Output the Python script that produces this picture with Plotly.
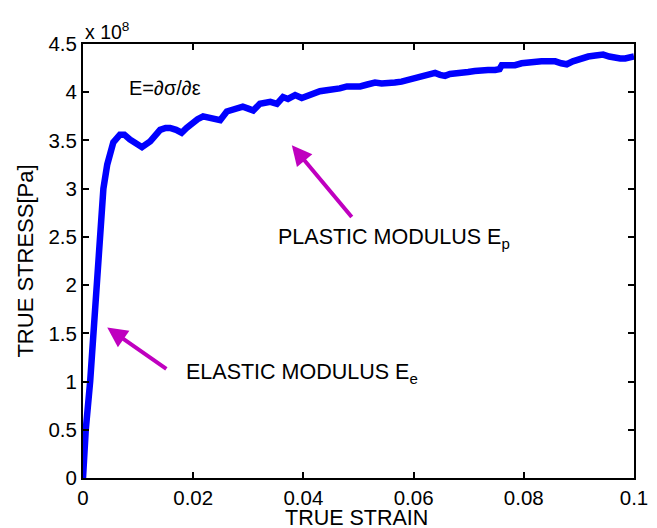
import plotly.graph_objects as go

# True stress (x 1e8 Pa) versus true strain
strain = [0.0, 0.0005, 0.0013, 0.0019, 0.0023, 0.0029, 0.0037, 0.0044, 0.0055, 0.0067,
          0.0075, 0.0085, 0.0096, 0.0107, 0.0122, 0.0131, 0.0140, 0.0150, 0.0158, 0.0169,
          0.0179, 0.0188, 0.0197, 0.0208, 0.0218, 0.0228, 0.0236, 0.0249, 0.0261, 0.0270,
          0.0279, 0.0290, 0.0300, 0.0309, 0.0321, 0.0330, 0.0340, 0.0352, 0.0363, 0.0372,
          0.0385, 0.0397, 0.0412, 0.0421, 0.0430, 0.0442, 0.0454, 0.0466, 0.0479, 0.0491,
          0.0503, 0.0516, 0.0530, 0.0542, 0.0554, 0.0566, 0.0578, 0.0590, 0.0603, 0.0612,
          0.0621, 0.0630, 0.0639, 0.0648, 0.0657, 0.0666, 0.0675, 0.0687, 0.0699, 0.0711,
          0.0723, 0.0735, 0.0748, 0.0756, 0.0760, 0.0772, 0.0784, 0.0796, 0.0808, 0.0820,
          0.0832, 0.0845, 0.0857, 0.0868, 0.0878, 0.0889, 0.0899, 0.0908, 0.0917, 0.0930,
          0.0944, 0.0955, 0.0966, 0.0975, 0.0984, 0.0991, 0.0998, 0.1000]
stress = [0.00, 0.50, 1.00, 1.50, 2.00, 2.50, 3.00, 3.25, 3.48, 3.56,
          3.56, 3.51, 3.47, 3.43, 3.49, 3.55, 3.61, 3.63, 3.63, 3.61,
          3.58, 3.63, 3.68, 3.72, 3.75, 3.74, 3.73, 3.71, 3.80, 3.82,
          3.835, 3.85, 3.83, 3.81, 3.88, 3.89, 3.90, 3.88, 3.95, 3.93,
          3.97, 3.94, 3.98, 4.00, 4.01, 4.02, 4.025, 4.04, 4.06, 4.06,
          4.06, 4.08, 4.10, 4.09, 4.09, 4.10, 4.11, 4.13, 4.15, 4.16,
          4.18, 4.19, 4.20, 4.18, 4.17, 4.19, 4.20, 4.20, 4.21, 4.22,
          4.23, 4.23, 4.23, 4.24, 4.28, 4.28, 4.28, 4.30, 4.31, 4.31,
          4.32, 4.32, 4.32, 4.30, 4.29, 4.32, 4.34, 4.36, 4.37, 4.38,
          4.39, 4.37, 4.35, 4.35, 4.35, 4.36, 4.37, 4.37]

x_ticks = [0, 0.02, 0.04, 0.06, 0.08, 0.1]
x_tick_labels = ["0", "0.02", "0.04", "0.06", "0.08", "0.1"]
y_ticks = [0, 0.5, 1, 1.5, 2, 2.5, 3, 3.5, 4, 4.5]
y_tick_labels = ["0", "0.5", "1", "1.5", "2", "2.5", "3", "3.5", "4", "4.5"]

# Arrow heads and tails (strain, stress)
elastic_head = (0.0044, 1.56)
elastic_tail = (0.0154, 1.12)
plastic_head = (0.0379, 3.45)
plastic_tail = (0.0490, 2.69)

FONT = "Liberation Sans, Arial, Helvetica, sans-serif"
ARROW = "#BF00BF"

fig = go.Figure()
fig.add_trace(go.Scatter(x=strain, y=stress, mode="lines",
                         line=dict(color="#0000FF", width=6.5),
                         showlegend=False))

axis_common = dict(showline=True, linecolor="black", linewidth=2, mirror="ticks",
                   ticks="inside", ticklen=6, tickwidth=1.5, tickcolor="black",
                   showgrid=False, zeroline=False,
                   tickfont=dict(family=FONT, size=20.5, color="black"))

fig.update_xaxes(range=[0, 0.1], tickvals=x_ticks, ticktext=x_tick_labels,
                 **axis_common)
fig.update_yaxes(range=[0, 4.5], tickvals=y_ticks, ticktext=y_tick_labels,
                 title=dict(text="TRUE STRESS[Pa]", font=dict(family=FONT, size=22, color="black"),
                            standoff=9),
                 **axis_common)

annotations = [
    # x-axis label sits low, just under the tick labels
    dict(xref="paper", yref="paper", x=0.4955, y=0, xanchor="center", yanchor="top",
         text="TRUE STRAIN", showarrow=False, yshift=-26,
         font=dict(family=FONT, size=21.5, color="black")),
    dict(xref="paper", yref="paper", x=0, y=1, xanchor="left", yanchor="bottom",
         text="x 10<sup>8</sup>", showarrow=False, yshift=-1,
         font=dict(family=FONT, size=19.5, color="black")),
    dict(x=0.008, y=4.045, xanchor="left", yanchor="middle",
         text="E=\u2202\u03c3/\u2202\u03b5", showarrow=False,
         font=dict(family=FONT, size=20, color="black")),
    dict(x=0.0350, y=2.48, xanchor="left", yanchor="middle",
         text="PLASTIC MODULUS E<sub>p</sub>", showarrow=False,
         font=dict(family=FONT, size=21.5, color="black")),
    dict(x=0.0183, y=1.08, xanchor="left", yanchor="middle",
         text="ELASTIC MODULUS E<sub>e</sub>", showarrow=False,
         font=dict(family=FONT, size=21.5, color="black")),
]
for head, tail in [(elastic_head, elastic_tail), (plastic_head, plastic_tail)]:
    annotations.append(dict(x=head[0], y=head[1], ax=tail[0], ay=tail[1],
                            xref="x", yref="y", axref="x", ayref="y",
                            text="", showarrow=True, arrowhead=2, arrowsize=1,
                            arrowwidth=4, arrowcolor=ARROW))

fig.update_layout(width=657, height=528,
                  margin=dict(l=83, r=23, t=44, b=50, autoexpand=False),
                  paper_bgcolor="white", plot_bgcolor="white",
                  font=dict(family=FONT, size=20.5, color="black"),
                  annotations=annotations)

fig.write_html("out.html")
